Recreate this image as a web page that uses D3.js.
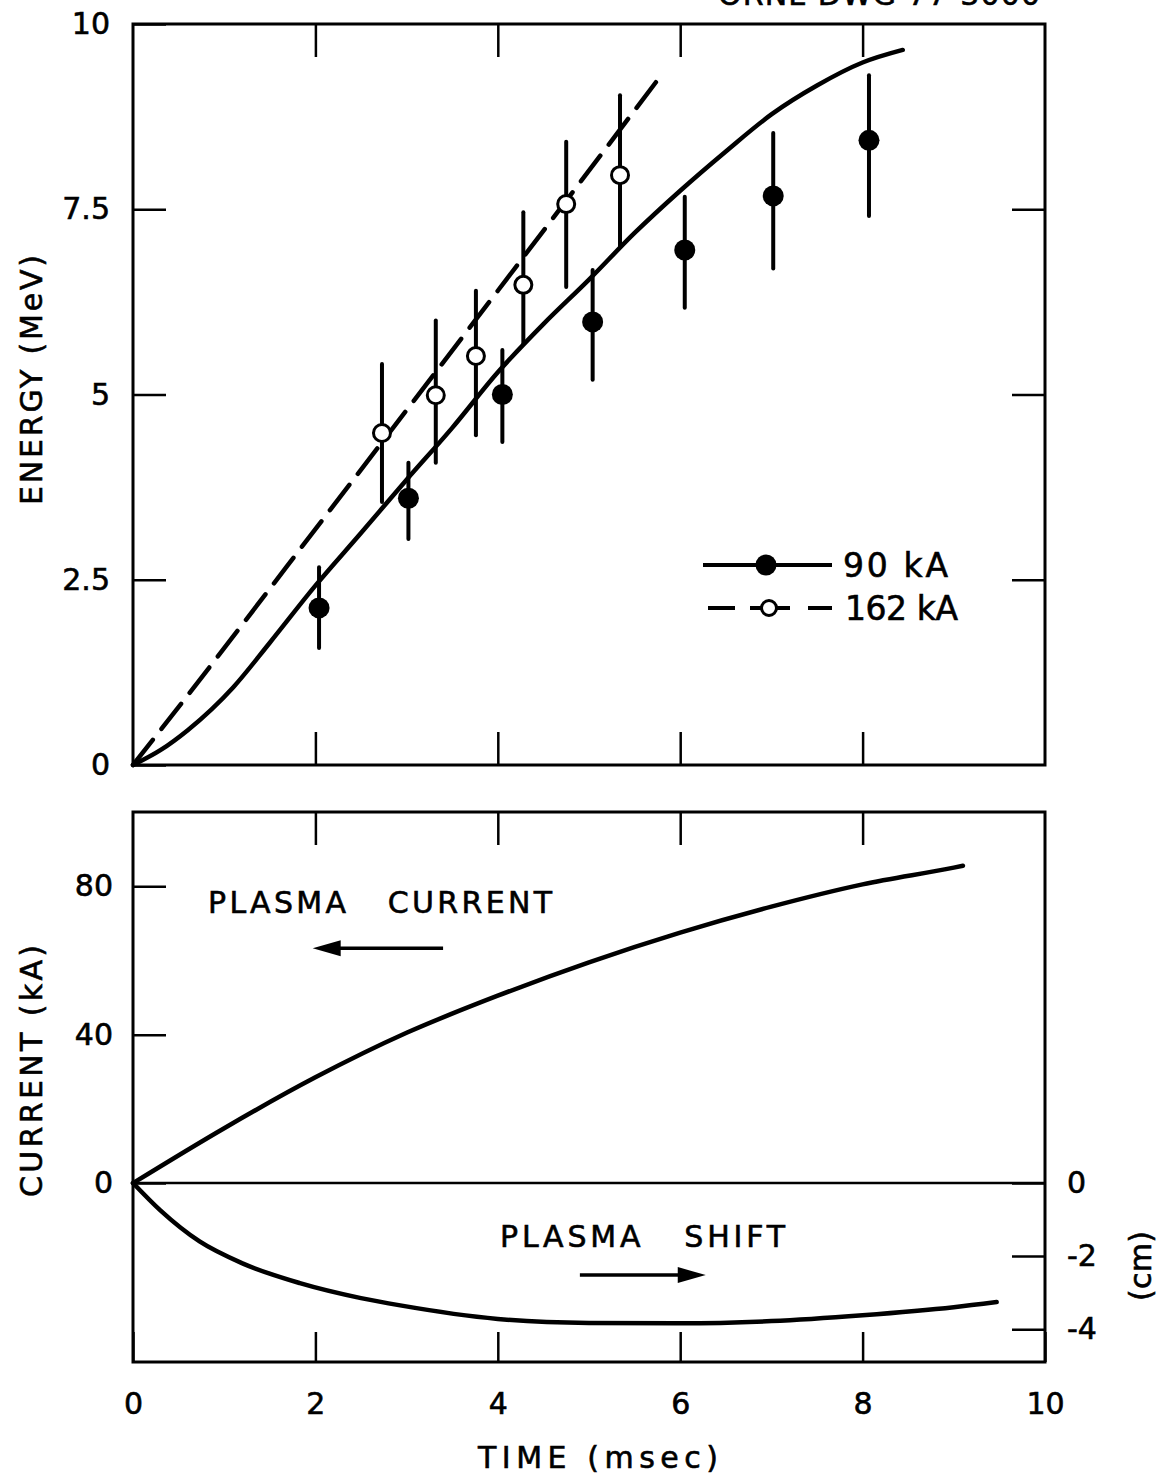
<!DOCTYPE html>
<html>
<head>
<meta charset="utf-8">
<script src="https://cdn.jsdelivr.net/npm/d3@7"></script>
<style>
	body { margin: 0; background: #fff; }
	svg { display: block; font-family: "DejaVu Sans", sans-serif; }
	.frame { fill: none; stroke: #000; stroke-width: 3; }
	.axis path.domain { display: none; }
	.axis line { stroke: #000; stroke-width: 2.5; }
	.axis text { font-size: 30px; fill: #000; stroke: #000; stroke-width: 0.6; font-family: "DejaVu Sans", sans-serif; }
	.curve { fill: none; stroke: #000; stroke-width: 4.5; stroke-linecap: round; }
	.err { stroke: #000; stroke-width: 4; stroke-linecap: round; }
	.lbl { font-size: 30px; fill: #000; stroke: #000; stroke-width: 0.6; white-space: pre; }
</style>
</head>
<body>
<svg width="1158" height="1478"></svg>
<script>
//* data - energy panel, 90 kA (filled)
const t90 = [2.04, 3.02, 4.05, 5.04, 6.05, 7.02, 8.07];
const e90 = [2.12, 3.6, 5.0, 5.98, 6.95, 7.68, 8.43];
const lo90 = [1.58, 3.05, 4.36, 5.2, 6.17, 6.7, 7.41];
const hi90 = [2.67, 4.08, 5.6, 6.68, 7.67, 8.53, 9.31];

//* data - energy panel, 162 kA (open)
const t162 = [2.73, 3.32, 3.76, 4.28, 4.75, 5.34];
const e162 = [4.48, 4.99, 5.52, 6.48, 7.57, 7.96];
const lo162 = [3.55, 4.08, 4.45, 5.69, 6.45, 6.99];
const hi162 = [5.41, 6.0, 6.4, 7.46, 8.41, 9.04];

//* theory curves
const fitT90 = [0, 0.3, 0.6, 1.1, 1.5, 2, 2.5, 3, 3.5, 4, 4.5, 5, 5.5, 6, 6.5, 7, 7.5, 8, 8.44];
const fitE90 = [0, 0.2, 0.47, 1.05, 1.65, 2.42, 3.13, 3.85, 4.55, 5.3, 5.95, 6.55, 7.18, 7.75, 8.28, 8.78, 9.17, 9.48, 9.65];
const fitT162 = [0, 0.32, 2.16, 4, 5.78];
const fitE162 = [0, 0.5, 3.44, 6.4, 9.29];

//* current / shift panel
const curT = [0, 1, 2, 3, 4, 5, 6, 7, 8, 9, 9.1];
const curI = [0, 14.8, 28.5, 40.5, 50.5, 59.5, 67.5, 74.5, 80.5, 85, 85.5];
const shiftT = [0, 0.3, 0.73, 1.2, 1.83, 2.5, 2.93, 4, 5, 6, 7, 8, 9, 9.47];
const shiftS = [0, -0.75, -1.6, -2.2, -2.74, -3.15, -3.35, -3.72, -3.83, -3.84, -3.78, -3.62, -3.4, -3.26];

//* ticks & labels
const xTicks = [0, 2, 4, 6, 8, 10];
const eTicks = [0, 2.5, 5, 7.5, 10];
const eTickLabels = ["0", "2.5", "5", "7.5", "10"];
const iTicks = [0, 40, 80];
const sTicks = [0, -2, -4];
const legendLabels = ["90 kA", "162 kA"];

const svg = d3.select("svg");

//* scales
const x = d3.scaleLinear().domain([0, 10]).range([133, 1045]);
const yE = d3.scaleLinear().domain([0, 10]).range([765, 24]);
const yI = d3.scaleLinear().domain([-48.2, 100]).range([1362, 812]);
const yS = d3.scaleLinear().domain([-4.9, 10.16]).range([1362, 812]);

const zip = (a, b) => a.map((v, i) => [v, b[i]]);

//* header (cut off at the top of the scan)
svg.append("text")
	.attr("x", 718)
	.attr("y", 5)
	.attr("class", "lbl")
	.attr("textLength", 322)
	.text("ORNL-DWG 77-3000");

// ---------- top panel ----------
svg.append("rect").attr("class", "frame")
	.attr("x", x(0)).attr("y", yE(10))
	.attr("width", x(10) - x(0)).attr("height", yE(0) - yE(10));

svg.append("g").attr("class", "axis")
	.attr("transform", `translate(0, ${yE(0)})`)
	.call(d3.axisBottom(x).tickValues([2, 4, 6, 8]).tickSize(-33).tickFormat(""));
svg.append("g").attr("class", "axis")
	.attr("transform", `translate(0, ${yE(10)})`)
	.call(d3.axisTop(x).tickValues([2, 4, 6, 8]).tickSize(-33).tickFormat(""));
svg.append("g").attr("class", "axis")
	.attr("transform", `translate(${x(0)}, 0)`)
	.call(d3.axisLeft(yE).tickValues(eTicks).tickSize(-33).tickPadding(23)
		.tickFormat((d, i) => eTickLabels[i]));
svg.append("g").attr("class", "axis")
	.attr("transform", `translate(${x(10)}, 0)`)
	.call(d3.axisRight(yE).tickValues([2.5, 5, 7.5]).tickSize(-33).tickFormat(""));

const lineE = d3.line().x((d) => x(d[0])).y((d) => yE(d[1])).curve(d3.curveMonotoneX);

svg.append("path").attr("class", "curve")
	.attr("d", lineE(zip(fitT90, fitE90)));
svg.append("path").attr("class", "curve")
	.attr("stroke-dasharray", "32,14")
	.attr("stroke-linecap", "butt")
	.attr("d", lineE(zip(fitT162, fitE162)));

//* error bars
svg.selectAll("line.err90")
	.data(t90)
	.enter()
	.append("line")
	.attr("class", "err")
	.attr("x1", (d) => x(d)).attr("x2", (d) => x(d))
	.attr("y1", (_, i) => yE(lo90[i])).attr("y2", (_, i) => yE(hi90[i]));
svg.selectAll("line.err162")
	.data(t162)
	.enter()
	.append("line")
	.attr("class", "err")
	.attr("x1", (d) => x(d)).attr("x2", (d) => x(d))
	.attr("y1", (_, i) => yE(lo162[i])).attr("y2", (_, i) => yE(hi162[i]));

//* points
svg.selectAll("circle.p90")
	.data(t90)
	.enter()
	.append("circle")
	.attr("cx", (d) => x(d))
	.attr("cy", (_, i) => yE(e90[i]))
	.attr("r", 10.5)
	.style("fill", "#000");
svg.selectAll("circle.p162")
	.data(t162)
	.enter()
	.append("circle")
	.attr("cx", (d) => x(d))
	.attr("cy", (_, i) => yE(e162[i]))
	.attr("r", 8.5)
	.style("fill", "#fff")
	.style("stroke", "#000")
	.style("stroke-width", 3);

//* legend
const leg = svg.append("g");
leg.append("line").attr("x1", 703).attr("x2", 832).attr("y1", 565).attr("y2", 565)
	.style("stroke", "#000").style("stroke-width", 4);
leg.append("circle").attr("cx", 766).attr("cy", 565).attr("r", 10.5).style("fill", "#000");
leg.append("line").attr("x1", 708).attr("x2", 832).attr("y1", 608).attr("y2", 608)
	.style("stroke", "#000").style("stroke-width", 4)
	.attr("stroke-dasharray", "27,15,40,18,24");
leg.append("circle").attr("cx", 769).attr("cy", 608).attr("r", 7.5)
	.style("fill", "#fff").style("stroke", "#000").style("stroke-width", 3);
leg.selectAll("text")
	.data(legendLabels)
	.enter()
	.append("text")
	.attr("class", "lbl")
	.attr("x", (_, i) => (i ? 845 : 843))
	.attr("y", (_, i) => 577 + i * 43)
	.attr("textLength", (_, i) => (i ? 113 : 105))
	.style("font-size", "33px")
	.text((d) => d);

//* y label
svg.append("text").attr("class", "lbl")
	.attr("transform", "translate(42, 380) rotate(-90)")
	.attr("text-anchor", "middle")
	.attr("textLength", 250)
	.text("ENERGY (MeV)");

// ---------- bottom panel ----------
svg.append("rect").attr("class", "frame")
	.attr("x", x(0)).attr("y", yI(100))
	.attr("width", x(10) - x(0)).attr("height", yI(-48.2) - yI(100));

svg.append("line")
	.attr("x1", x(0)).attr("x2", x(10))
	.attr("y1", yI(0)).attr("y2", yI(0))
	.style("stroke", "#000").style("stroke-width", 2.5);

svg.append("g").attr("class", "axis")
	.attr("transform", `translate(0, ${yI(-48.2)})`)
	.call(d3.axisBottom(x).tickValues(xTicks).tickSize(-30).tickPadding(31).tickFormat((d) => d));
svg.append("g").attr("class", "axis")
	.attr("transform", `translate(0, ${yI(100)})`)
	.call(d3.axisTop(x).tickValues([2, 4, 6, 8]).tickSize(-33).tickFormat(""));
svg.append("g").attr("class", "axis")
	.attr("transform", `translate(${x(0)}, 0)`)
	.call(d3.axisLeft(yI).tickValues(iTicks).tickSize(-33).tickPadding(20).tickFormat((d) => d));
svg.append("g").attr("class", "axis")
	.attr("transform", `translate(${x(10)}, 0)`)
	.call(d3.axisRight(yS).tickValues(sTicks).tickSize(-33).tickPadding(22).tickFormat((d) => String(d)));

const lineI = d3.line().x((d) => x(d[0])).y((d) => yI(d[1])).curve(d3.curveMonotoneX);
const lineS = d3.line().x((d) => x(d[0])).y((d) => yS(d[1])).curve(d3.curveMonotoneX);

svg.append("path").attr("class", "curve").attr("d", lineI(zip(curT, curI)));
svg.append("path").attr("class", "curve").attr("d", lineS(zip(shiftT, shiftS)));

//* annotations
svg.append("text").attr("class", "lbl")
	.attr("x", 208).attr("y", 913)
	.attr("textLength", 344)
	.text("PLASMA   CURRENT");
svg.append("text").attr("class", "lbl")
	.attr("x", 500).attr("y", 1247)
	.attr("textLength", 285)
	.text("PLASMA   SHIFT");

// arrow pointing left (current -> left axis)
const arrowCurY = yI(63.3);
svg.append("line")
	.attr("x1", x(3.4)).attr("x2", x(1.97) + 20)
	.attr("y1", arrowCurY).attr("y2", arrowCurY)
	.style("stroke", "#000").style("stroke-width", 3.5);
svg.append("path")
	.attr("d", `M${x(1.97)},${arrowCurY} l28,-8 l0,16 z`)
	.style("fill", "#000");

// arrow pointing right (shift -> right axis)
const arrowShY = yS(-2.52);
svg.append("line")
	.attr("x1", x(4.9)).attr("x2", x(6.28) - 20)
	.attr("y1", arrowShY).attr("y2", arrowShY)
	.style("stroke", "#000").style("stroke-width", 3.5);
svg.append("path")
	.attr("d", `M${x(6.28)},${arrowShY} l-28,-8 l0,16 z`)
	.style("fill", "#000");

//* axis titles
svg.append("text").attr("class", "lbl")
	.attr("transform", "translate(42, 1071) rotate(-90)")
	.attr("text-anchor", "middle")
	.attr("textLength", 252)
	.text("CURRENT (kA)");
svg.append("text").attr("class", "lbl")
	.attr("transform", "translate(1151, 1266) rotate(-90)")
	.attr("text-anchor", "middle")
	.attr("textLength", 70)
	.text("(cm)");
svg.append("text").attr("class", "lbl")
	.attr("x", 478).attr("y", 1468)
	.attr("textLength", 240)
	.text("TIME (msec)");
</script>
</body>
</html>
